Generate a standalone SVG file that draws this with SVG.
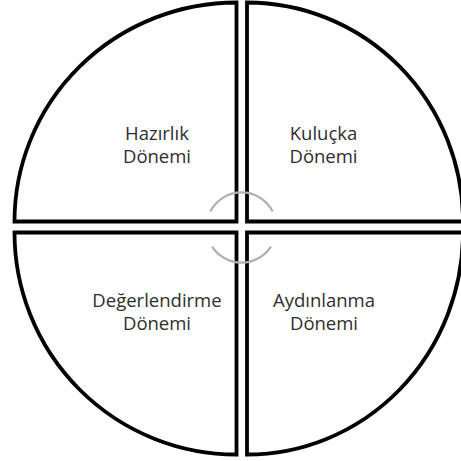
<svg xmlns="http://www.w3.org/2000/svg" width="461" height="461" viewBox="0 0 461 461">
<style>
.sec{fill:#fff;stroke:#000;stroke-width:3.8;stroke-linejoin:miter}
.lbl{font-family:"Open Sans","DejaVu Sans",sans-serif;font-size:18.5px;fill:#2e2e2e;text-anchor:middle}
.arc{fill:none;stroke:#b0b0b0;stroke-width:2.2}
</style>
<rect width="461" height="461" fill="#fff"/>
<g id="hazirlik">
<path class="sec" d="M236.5 221.5 L14.5 221.5 A222 219 0 0 1 236.5 2.5 Z"/>
<text class="lbl" x="157" y="140">Hazırlık</text>
<text class="lbl" x="157" y="163">Dönemi</text>
</g>
<g id="kulucka">
<path class="sec" d="M247 221.5 L247 2.5 A216 219 0 0 1 463 221.5 Z"/>
<text class="lbl" x="323.5" y="140">Kuluçka</text>
<text class="lbl" x="323.5" y="163">Dönemi</text>
</g>
<g id="degerlendirme">
<path class="sec" d="M236.5 232.5 L236.5 454.5 A222 222 0 0 1 14.5 232.5 Z"/>
<text class="lbl" x="157" y="307">Değerlendirme</text>
<text class="lbl" x="157" y="330">Dönemi</text>
</g>
<g id="aydinlanma">
<path class="sec" d="M247 232.5 L463 232.5 A216 222 0 0 1 247 454.5 Z"/>
<text class="lbl" x="324" y="307">Aydınlanma</text>
<text class="lbl" x="324" y="330">Dönemi</text>
</g>
<g id="connectors">
<path class="arc" d="M210.3 211.6 A35 35 0 0 1 272.7 211.6"/>
<path class="arc" d="M270.9 246.6 A35 35 0 0 1 212.1 246.6"/>
</g>
</svg>
